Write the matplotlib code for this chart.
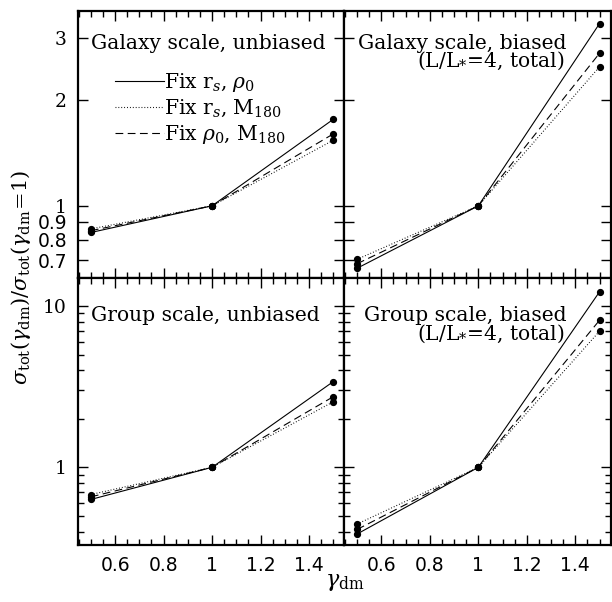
import matplotlib
matplotlib.use("Agg")
import matplotlib.pyplot as plt
from matplotlib.ticker import FixedLocator, NullLocator, MultipleLocator, NullFormatter, FixedFormatter
from matplotlib.lines import Line2D

plt.rcParams["font.family"] = "DejaVu Serif"
plt.rcParams["mathtext.fontset"] = "dejavuserif"

# inner slope of the dark-matter profile
gamma_dm = [0.5, 1.0, 1.5]

# sigma_tot(gamma_dm) / sigma_tot(gamma_dm = 1) for each normalisation choice
galaxy_unbiased = {
    "fix_rs_rho0": [0.840, 1.0, 1.76],
    "fix_rs_M180": [0.860, 1.0, 1.535],
    "fix_rho0_M180": [0.850, 1.0, 1.60],
}
galaxy_biased = {
    "fix_rs_rho0": [0.665, 1.0, 3.29],
    "fix_rs_M180": [0.705, 1.0, 2.48],
    "fix_rho0_M180": [0.685, 1.0, 2.71],
}
group_unbiased = {
    "fix_rs_rho0": [0.632, 1.0, 3.40],
    "fix_rs_M180": [0.678, 1.0, 2.55],
    "fix_rho0_M180": [0.656, 1.0, 2.74],
}
group_biased = {
    "fix_rs_rho0": [0.386, 1.0, 12.25],
    "fix_rs_M180": [0.445, 1.0, 6.98],
    "fix_rho0_M180": [0.412, 1.0, 8.16],
}

series_order = ["fix_rs_rho0", "fix_rs_M180", "fix_rho0_M180"]
series_labels = [r"Fix r$_s$, $\rho_0$", r"Fix r$_s$, M$_{180}$", r"Fix $\rho_0$, M$_{180}$"]
series_styles = {"fix_rs_rho0": "-", "fix_rs_M180": (0, (0.8, 1.8)), "fix_rho0_M180": (0, (7, 4))}

galaxy_ticks = [0.7, 0.8, 0.9, 1, 2, 3]
galaxy_ticklabels = ["0.7", "0.8", "0.9", "1", "2", "3"]
group_major = [1, 10]
group_ticklabels = ["1", "10"]
x_major = [0.6, 0.8, 1.0, 1.2, 1.4]
x_ticklabels = ["0.6", "0.8", "1", "1.2", "1.4"]

fig = plt.figure(figsize=(6.12, 6.02), dpi=100)
gs = fig.add_gridspec(2, 2, left=78 / 612, right=610.5 / 612, top=1 - 11 / 602,
                      bottom=1 - 545 / 602, hspace=0, wspace=0)

panels = [
    (0, 0, galaxy_unbiased, ["Galaxy scale, unbiased"], "left"),
    (0, 1, galaxy_biased, ["Galaxy scale, biased", r"(L/L$_{*}$=4, total)"], "right"),
    (1, 0, group_unbiased, ["Group scale, unbiased"], "left"),
    (1, 1, group_biased, ["Group scale, biased", r"(L/L$_{*}$=4, total)"], "right"),
]

fs_text = 14.6
# vertical placement (axes fraction) of the annotation lines per row
title_y = {0: (0.880, 0.812), 1: (0.858, 0.790)}
axes = {}
for r, c, data, title, align in panels:
    ax = fig.add_subplot(gs[r, c])
    axes[(r, c)] = ax
    for key in series_order:
        ax.plot(gamma_dm, data[key], color="black", lw=0.8, ls=series_styles[key],
                marker="o", ms=4.2, mfc="black", mec="black", solid_capstyle="butt")
    ax.set_yscale("log")
    ax.set_xlim(0.447, 1.545)
    if r == 0:
        ax.set_ylim(0.624, 3.57)
        ax.yaxis.set_major_locator(FixedLocator(galaxy_ticks))
        ax.yaxis.set_minor_locator(NullLocator())
        ax.yaxis.set_major_formatter(FixedFormatter(galaxy_ticklabels))
    else:
        ax.set_ylim(0.330, 14.9)
        ax.yaxis.set_major_locator(FixedLocator(group_major))
        ax.yaxis.set_major_formatter(FixedFormatter(group_ticklabels))
        ax.yaxis.set_minor_formatter(NullFormatter())
    ax.xaxis.set_major_locator(FixedLocator(x_major))
    ax.xaxis.set_minor_locator(MultipleLocator(0.05))
    ax.xaxis.set_major_formatter(FixedFormatter(x_ticklabels))
    ax.tick_params(which="both", direction="in", top=True, right=True, width=1.0,
                   labelsize=13.5, colors="black")
    ax.tick_params(which="major", length=7.5)
    ax.tick_params(which="minor", length=4.2)
    ax.tick_params(axis="x", pad=8)
    ax.tick_params(axis="y", pad=8)
    if c == 1:
        ax.tick_params(axis="y", labelleft=False)
    if r == 0:
        ax.tick_params(axis="x", labelbottom=False)
    for s in ax.spines.values():
        s.set_linewidth(1.6)

    y1, y2 = title_y[r]
    if align == "left":
        ax.text(0.05, y1, title[0], transform=ax.transAxes,
                ha="left", va="center", fontsize=fs_text)
    else:
        ax.text(0.835, y1, title[0], transform=ax.transAxes,
                ha="right", va="center", fontsize=fs_text)
        ax.text(0.828, y2, title[1], transform=ax.transAxes,
                ha="right", va="center", fontsize=fs_text)

# numeric y labels: whole numbers in serif, decimals in sans
for ax in (axes[(0, 0)], axes[(1, 0)]):
    for lab in ax.get_yticklabels():
        if "." in lab.get_text():
            lab.set_fontfamily("DejaVu Sans")

for ax in (axes[(1, 0)], axes[(1, 1)]):
    for lab in ax.get_xticklabels():
        lab.set_fontfamily("DejaVu Sans")

handles = [Line2D([], [], color="black", lw=0.8, ls=series_styles[k]) for k in series_order]
leg = axes[(0, 0)].legend(handles, series_labels, loc="center left",
                          bbox_to_anchor=(0.139, 0.635), frameon=False, fontsize=fs_text,
                          handlelength=2.4, handletextpad=0.0, labelspacing=0.2,
                          borderaxespad=0, borderpad=0)

fig.text(0.034, 0.54, r"$\sigma_{\rm tot}(\gamma_{\rm dm})/\sigma_{\rm tot}(\gamma_{\rm dm}\!=\!1)$",
         rotation=90, ha="center", va="center", fontsize=15)
fig.text(345 / 612, 1 - 582 / 602, r"$\gamma_{\rm dm}$", ha="center", va="center", fontsize=16)

fig.savefig("out.png", dpi=100)
